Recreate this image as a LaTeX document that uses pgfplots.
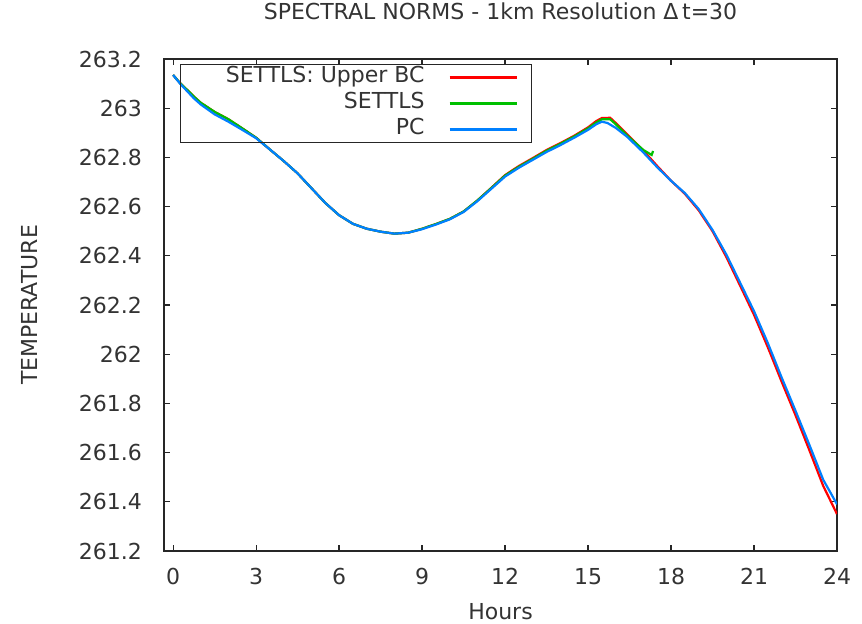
\documentclass[border=0pt]{standalone}
\usepackage{fontspec}
\setmainfont{DejaVu Sans}
\usepackage{pgfplots}
\pgfplotsset{compat=1.18}
\definecolor{gpred}{RGB}{255,0,0}
\definecolor{gpgreen}{RGB}{0,192,0}
\definecolor{gpblue}{RGB}{0,128,255}
\begin{document}
\begin{tikzpicture}
\begin{axis}[
  scale only axis, width=673bp, height=492bp,
  font=\fontsize{22bp}{26bp}\selectfont,
  /pgf/number format/assume math mode=true,
  xmin=-0.33, xmax=24, ymin=261.2, ymax=263.2,
  xtick={0,3,6,9,12,15,18,21,24},
  ytick={261.2,261.4,261.6,261.8,262,262.2,262.4,262.6,262.8,263,263.2},
  yticklabels={261.2,261.4,261.6,261.8,262,262.2,262.4,262.6,262.8,263,263.2},
  tick align=inside, tick pos=both, major tick length=6bp,
  axis line style={black!85, line width=1.2bp},
  every tick/.style={black!85, line width=1.2bp},
  tick label style={text=black!80},
  yticklabel style={inner sep=0pt, anchor=east, xshift=-22bp},
  xticklabel style={inner sep=0pt, anchor=north, yshift=-17bp},
  xlabel={Hours}, ylabel={TEMPERATURE},
  xlabel style={at={(axis description cs:0.5,0)}, anchor=center, yshift=-61bp, text=black!80},
  ylabel style={at={(axis description cs:-0.1991,0.5)}, anchor=center, text=black!80},
  title={SPECTRAL NORMS - 1km Resolution Δ\,t=30},
  title style={at={(axis description cs:0.5,1)}, anchor=base, yshift=34bp, text=black!80},
  legend plot pos=right,
  legend cell align=right,
  legend style={at={(axis description cs:0.0238,0.9898)}, anchor=north west,
    inner sep=0pt, draw=black!85, line width=1bp, fill=none,
    nodes={inner xsep=0pt, inner ysep=3bp, text height=15bp, text depth=5bp, text=black!80}},
  legend image code/.code={\draw[#1] (24bp,0bp) -- (91bp,0bp); \path (0bp,0bp) (105bp,0bp);},
]
\addplot[gpred, line width=2.2bp] coordinates {
(0,263.135) (0.25,263.102) (0.5,263.075) (0.75,263.047) (1.0,263.022) (1.5,262.985) (2.0,262.955) (2.5,262.918) (3.0,262.88)
(3.5,262.832) (4.0,262.785) (4.5,262.735) (5.0,262.675) (5.5,262.615) (6.0,262.565) (6.5,262.53) (7.0,262.51) (7.5,262.498)
(8.0,262.49) (8.5,262.494) (9.0,262.51) (9.5,262.529) (10.0,262.55) (10.5,262.58) (11.0,262.625) (11.5,262.676) (12.0,262.728)
(12.5,262.765) (13.0,262.797) (13.5,262.83) (14.0,262.858) (14.5,262.888) (15.0,262.922) (15.3,262.948) (15.5,262.96) (15.8,262.961)
(16.0,262.94) (16.4,262.895) (17.0,262.828) (17.5,262.765) (18.0,262.705) (18.5,262.652) (19.0,262.585) (19.5,262.5) (20.0,262.395)
(20.5,262.278) (21.0,262.16) (21.5,262.028) (22.0,261.888) (22.5,261.752) (23.0,261.61) (23.5,261.465) (24.0,261.35)
};
\addlegendentry{\makebox[244bp][r]{SETTLS: Upper BC}}
\addplot[gpgreen, line width=2.2bp] coordinates {
(0,263.135) (0.25,263.102) (0.5,263.075) (0.75,263.047) (1.0,263.022) (1.5,262.985) (2.0,262.955) (2.5,262.918) (3.0,262.88)
(3.5,262.832) (4.0,262.785) (4.5,262.735) (5.0,262.675) (5.5,262.615) (6.0,262.565) (6.5,262.53) (7.0,262.51) (7.5,262.498)
(8.0,262.49) (8.5,262.494) (9.0,262.51) (9.5,262.529) (10.0,262.55) (10.5,262.58) (11.0,262.625) (11.5,262.675) (12.0,262.726)
(12.5,262.762) (13.0,262.794) (13.5,262.827) (14.0,262.855) (14.5,262.885) (15.0,262.918) (15.3,262.942) (15.5,262.955) (15.8,262.955)
(16.0,262.935) (16.4,262.89) (17.0,262.83) (17.3,262.81) (17.35,262.826)
};
\addlegendentry{\makebox[244bp][r]{SETTLS}}
\addplot[gpblue, line width=2.2bp] coordinates {
(0,263.135) (0.25,263.1) (0.5,263.07) (0.75,263.04) (1.0,263.015) (1.5,262.975) (2.0,262.945) (2.5,262.912) (3.0,262.878)
(3.5,262.832) (4.0,262.785) (4.5,262.735) (5.0,262.675) (5.5,262.615) (6.0,262.565) (6.5,262.53) (7.0,262.51) (7.5,262.498)
(8.0,262.49) (8.5,262.494) (9.0,262.508) (9.5,262.527) (10.0,262.548) (10.5,262.578) (11.0,262.622) (11.5,262.672) (12.0,262.722)
(12.5,262.758) (13.0,262.79) (13.5,262.822) (14.0,262.85) (14.5,262.88) (15.0,262.912) (15.3,262.935) (15.5,262.945) (15.7,262.94)
(16.0,262.92) (16.4,262.885) (17.0,262.82) (17.5,262.76) (18.0,262.705) (18.5,262.655) (19.0,262.59) (19.5,262.505) (20.0,262.405)
(20.5,262.29) (21.0,262.175) (21.5,262.045) (22.0,261.905) (22.5,261.77) (23.0,261.632) (23.5,261.49) (24.0,261.39)
};
\addlegendentry{\makebox[244bp][r]{PC}}
\end{axis}
\pgfresetboundingbox
\path ([shift={(-164bp,-73bp)}]current axis.south west) rectangle ([shift={(698bp,551bp)}]current axis.south west);
\end{tikzpicture}
\end{document}
